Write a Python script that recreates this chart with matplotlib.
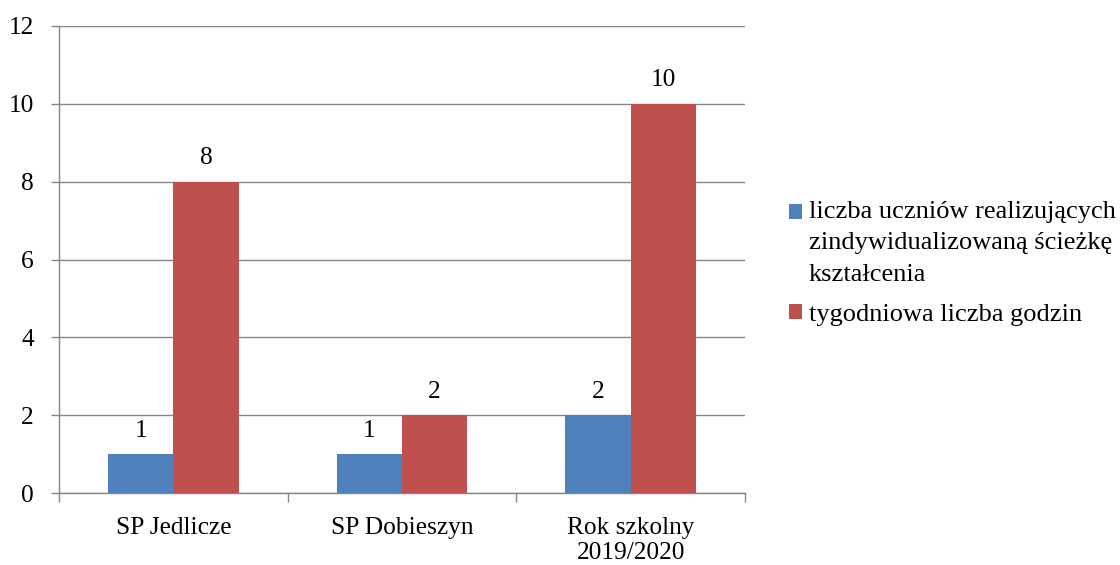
import matplotlib
matplotlib.use("Agg")
import matplotlib.pyplot as plt
from matplotlib.patches import Rectangle
from matplotlib.legend_handler import HandlerPatch
import numpy as np

categories = ["SP Jedlicze", "SP Dobieszyn", "Rok szkolny\n2019/2020"]
series_names = ["liczba uczniów realizujących\nzindywidualizowaną ścieżkę\nkształcenia",
                "tygodniowa liczba godzin"]
uczniowie = [1, 1, 2]
godziny = [8, 2, 10]
colors = ["#4F81BD", "#C0504D"]

FS = 18.3
LFS = 19
LSP = 1.55
plt.rcParams['font.family'] = ['Liberation Serif', 'DejaVu Serif']
W, H = 1120, 565
fig = plt.figure(figsize=(W/100, H/100), dpi=100)
ax = fig.add_axes([59/W, 1-493/H, (745-59)/W, (493-26)/H])

x = np.arange(len(categories))
bw = 1/3.5
grey = "#868686"
b1 = ax.bar(x - bw/2, uczniowie, bw, color=colors[0], label=series_names[0], zorder=3)
b2 = ax.bar(x + bw/2, godziny, bw, color=colors[1], label=series_names[1], zorder=3)
for bars in (b1, b2):
    for r in bars:
        ax.annotate(f"{int(r.get_height())}", (r.get_x() + r.get_width()/2, r.get_height()),
                    xytext=(0, 12.5), textcoords='offset points',
                    ha='center', va='baseline', fontsize=FS)

ax.set_xlim(-0.5, 2.5)
ax.set_ylim(0, 12)
ax.set_yticks(range(0, 13, 2))
ax.yaxis.grid(True, color=grey, linewidth=1, zorder=0)
ax.set_axisbelow(True)
ax.set_xticks(x)
ax.set_xticklabels(categories, fontsize=FS, linespacing=1.2)
ax.set_xticks([-0.5, 0.5, 1.5, 2.5], minor=True)
ax.tick_params(axis='x', which='major', length=0, pad=17)
ax.tick_params(axis='x', which='minor', length=6.5, color=grey, width=1)
ax.tick_params(axis='y', length=6, color=grey, width=1, labelsize=FS, pad=12)
for s in ['top', 'right']:
    ax.spines[s].set_visible(False)
for s in ['left', 'bottom']:
    ax.spines[s].set_color(grey)
    ax.spines[s].set_linewidth(1)

LINE_PT = 31 * 0.72  # legend line pitch in points


def make_handler(label):
    nlines = label.count("\n") + 1

    def top_patch(legend, orig_handle, xdescent, ydescent, width, height, fontsize):
        shift = (nlines - 1) / 2 * LINE_PT
        return Rectangle((-xdescent, -ydescent + shift), width, height)
    return HandlerPatch(patch_func=top_patch)


h1, h2 = b1.patches[0], b2.patches[0]
leg = fig.legend(handles=[h1, h2], labels=series_names, loc='upper left',
                 bbox_to_anchor=(789/W, 1-201/H),
                 frameon=False, fontsize=LFS, handlelength=0.5, handleheight=0.5,
                 handletextpad=0.25, labelspacing=0.7, borderpad=0, borderaxespad=0,
                 handler_map={h1: make_handler(series_names[0]),
                              h2: make_handler(series_names[1])})
for t in leg.get_texts():
    t.set_linespacing(LSP)

fig.savefig("out.png", dpi=100)
